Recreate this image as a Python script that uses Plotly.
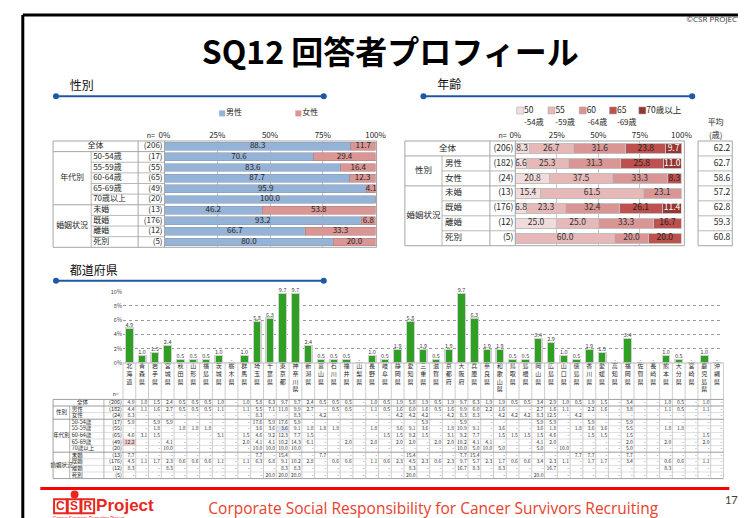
import plotly.graph_objects as go

W, H = 746, 518
JP = "Noto Sans CJK JP"
N = None

# ---------------- data ----------------
gender_labels = ["全体", "50-54歳", "55-59歳", "60-64歳", "65-69歳", "70歳以上", "未婚", "既婚", "離婚", "死別"]
gender_n = [206, 17, 55, 65, 49, 20, 13, 176, 12, 5]
male_pct = [88.3, 70.6, 83.6, 87.7, 95.9, 100.0, 46.2, 93.2, 66.7, 80.0]
female_pct = [11.7, 29.4, 16.4, 12.3, 4.1, 0.0, 53.8, 6.8, 33.3, 20.0]
gender_series = ["男性", "女性"]
gender_groups = ["年代別", "婚姻状況"]

pct_ticks = [0, 25, 50, 75, 100]
pct_ticktext = ["0%", "25%", "50%", "75%", "100%"]

age_labels = ["全体", "男性", "女性", "未婚", "既婚", "離婚", "死別"]
age_groups = ["性別", "婚姻状況"]
age_n = [206, 182, 24, 13, 176, 12, 5]
age_50_54 = [8.3, 6.6, 20.8, 15.4, 6.8, 25.0, 0]
age_55_59 = [26.7, 25.3, 37.5, 61.5, 23.3, 25.0, 60.0]
age_60_64 = [31.6, 31.3, 33.3, 23.1, 32.4, 33.3, 20.0]
age_65_69 = [23.8, 25.8, 8.3, 0, 26.1, 16.7, 20.0]
age_70_up = [9.7, 11.0, 0, 0, 11.4, 0, 0]
age_mean = [62.2, 62.7, 58.6, 57.2, 62.8, 59.3, 60.8]
age_series_top = ["50", "55", "60", "65", "70歳以上"]
age_series_bottom = ["-54歳", "-59歳", "-64歳", "-69歳", ""]

pref_names = ["北海道", "青森県", "岩手県", "宮城県", "秋田県", "山形県", "福島県", "茨城県", "栃木県", "群馬県",
              "埼玉県", "千葉県", "東京都", "神奈川県", "新潟県", "富山県", "石川県", "福井県", "山梨県", "長野県",
              "岐阜県", "静岡県", "愛知県", "三重県", "滋賀県", "京都府", "大阪府", "兵庫県", "奈良県", "和歌山県",
              "鳥取県", "島根県", "岡山県", "広島県", "山口県", "徳島県", "香川県", "愛媛県", "高知県", "福岡県",
              "佐賀県", "長崎県", "熊本県", "大分県", "宮崎県", "鹿児島県", "沖縄県"]
pref_ticks = [0, 2, 4, 6, 8, 10]
pref_ticktext = ["0%", "2%", "4%", "6%", "8%", "10%"]

tbl_labels = ["全体", "男性", "女性", "50-54歳", "55-59歳", "60-64歳", "65-69歳", "70歳以上", "未婚", "既婚", "離婚", "死別"]
tbl_groups = ["性別", "年代別", "婚姻状況"]
tbl_n = [206, 182, 24, 17, 55, 65, 49, 20, 13, 176, 12, 5]
tbl_total = [4.9, 1.0, 1.5, 2.4, 0.5, 0.5, 0.5, 1.0, N, 1.0, 5.8, 6.3, 9.7, 9.7, 2.4, 0.5, 0.5, 0.5, N, 1.0, 0.5, 1.9, 5.8, 1.9, 0.5, 1.9, 9.7, 6.3, 1.9, 1.9, 0.5, 0.5, 3.4, 2.9, 1.0, 0.5, 1.9, 1.5, N, 3.4, N, N, 1.0, 0.5, N, 1.0, N]
tbl_male = [4.4, 1.1, 1.6, 2.7, 0.5, 0.5, 0.5, 1.1, N, 1.1, 5.5, 7.1, 11.0, 9.9, 2.7, N, 0.5, 0.5, N, 1.1, 0.5, 1.6, 6.0, 1.6, 0.5, 1.6, 9.9, 6.0, 2.2, 1.6, N, N, 2.7, 1.6, 1.1, N, 2.2, 1.6, N, 3.8, N, N, 1.1, 0.5, N, 1.1, N]
tbl_female = [8.3, N, N, N, N, N, N, N, N, N, 8.3, N, N, 8.3, N, 4.2, N, N, N, N, N, 4.2, 4.2, 4.2, N, 4.2, 8.3, 8.3, N, 4.2, 4.2, 4.2, 8.3, 12.5, N, 4.2, N, N, N, N, N, N, N, N, N, N, N]
tbl_50_54 = [5.9, N, 5.9, 5.9, N, N, N, N, N, N, 17.6, 5.9, 17.6, 5.9, N, N, N, N, N, N, N, N, N, 5.9, N, N, 5.9, N, N, N, N, N, 5.9, 5.9, N, N, 5.9, N, N, 5.9, N, N, N, N, N, N, N]
tbl_55_59 = [N, N, 1.8, N, 1.8, 1.8, 1.8, N, N, N, 3.6, 3.6, 3.6, 9.1, 1.8, 1.8, 1.8, N, N, 1.8, N, 3.6, 9.1, 3.6, N, 1.8, 10.9, 9.1, N, 3.6, N, N, 3.6, 1.8, N, 1.8, 3.6, 3.6, N, 5.5, N, N, 1.8, 1.8, N, N, N]
tbl_60_64 = [4.6, 3.1, 1.5, N, N, N, N, 3.1, N, 1.5, 4.6, 9.2, 12.3, 7.7, 1.5, N, N, N, N, N, 1.5, 1.5, 9.2, 1.5, N, 3.1, 9.2, 7.7, N, 1.5, 1.5, 1.5, 1.5, 4.6, N, N, 1.5, 1.5, N, 1.5, N, N, N, N, N, 1.5, N]
tbl_65_69 = [12.2, N, N, 4.1, N, N, N, N, N, 2.0, 4.1, 4.1, 10.2, 14.3, 6.1, N, N, 2.0, N, 2.0, N, 2.0, 2.0, N, 2.0, 2.0, 10.2, 4.1, 4.1, N, N, N, 4.1, 2.0, N, N, N, N, N, 2.0, N, N, 2.0, N, N, 2.0, N]
tbl_70_up = [N, N, N, 10.0, N, N, N, N, N, N, 10.0, 10.0, 10.0, 10.0, N, N, N, N, N, N, N, N, N, N, N, N, 10.0, 5.0, 10.0, 5.0, N, N, 5.0, N, 10.0, N, N, N, N, 5.0, N, N, N, N, N, N, N]
tbl_single = [7.7, N, N, N, N, N, N, N, N, N, 7.7, N, 15.4, N, N, 7.7, N, N, N, N, N, N, 15.4, N, N, N, 7.7, 15.4, N, N, N, N, N, N, N, 7.7, 7.7, N, N, 7.7, N, N, N, N, N, N, N]
tbl_married = [4.5, 1.1, 1.7, 2.3, 0.6, 0.6, 0.6, 1.1, N, 1.1, 6.3, 6.8, 9.1, 10.2, 2.8, N, 0.6, 0.6, N, 1.1, 0.6, 2.3, 4.5, 2.3, 0.6, 2.3, 9.7, 5.7, 2.3, 1.7, 0.6, 0.6, 3.4, 2.3, 1.1, N, 1.7, 1.7, N, 3.4, N, N, 0.6, 0.6, N, 1.1, N]
tbl_divorced = [8.3, N, N, 8.3, N, N, N, N, N, N, N, N, 8.3, 8.3, N, N, N, N, N, N, N, N, 8.3, N, N, N, 16.7, 8.3, N, 8.3, N, N, N, 16.7, N, N, N, N, N, N, N, N, 8.3, N, N, N, N]
tbl_widowed = [N, N, N, N, N, N, N, N, N, N, N, 20.0, 20.0, 20.0, N, N, N, N, N, N, N, N, 20.0, N, N, N, N, N, N, N, N, N, 20.0, N, N, N, N, N, N, N, N, N, N, N, N, N, N]
tbl_rows = [tbl_total, tbl_male, tbl_female, tbl_50_54, tbl_55_59, tbl_60_64, tbl_65_69, tbl_70_up,
            tbl_single, tbl_married, tbl_divorced, tbl_widowed]
pref_total = tbl_total

# ---------------- styles ----------------
BLUE = "#95B3D7"
PINK = "#DA9694"
AGE_COLORS = ["#F2DCDB", "#E6B9B8", "#DA9694", "#C0504D", "#963634"]
AGE_TEXT = ["#333333", "#333333", "#333333", "#262626", "#FFFFFF"]
GREEN = "#2FA023"
GRID = "#A6A6A6"
NAVY = "#1F58A6"
TXT = "#262626"
RED = "#E8281E"

fig = go.Figure()
shapes = []


def py(y):
    return 1 - y / H


def hline(y, x0, x1, color=GRID, width=0.8, layer="above"):
    shapes.append(dict(type="line", xref="x", yref="y", x0=x0, x1=x1, y0=y, y1=y, layer=layer,
                       line=dict(color=color, width=width)))


def vline(x, y0, y1, color=GRID, width=0.8, layer="above"):
    shapes.append(dict(type="line", xref="x", yref="y", x0=x, x1=x, y0=y0, y1=y1, layer=layer,
                       line=dict(color=color, width=width)))


def box(x0, y0, x1, y1, fill="rgba(0,0,0,0)", color=GRID, width=0.8, layer="above"):
    shapes.append(dict(type="rect", xref="x", yref="y", x0=x0, x1=x1, y0=y0, y1=y1, layer=layer,
                       fillcolor=fill, line=dict(color=color, width=width)))


def txt(xs, ys, texts, size=8, color=TXT, pos="middle center", family=JP, xa="x", ya="y"):
    fig.add_trace(go.Scatter(x=list(xs), y=list(ys), text=list(texts), mode="text", textposition=pos,
                             textfont=dict(size=size, color=color, family=family),
                             xaxis=xa, yaxis=ya, hoverinfo="skip", showlegend=False, cliponaxis=False))


def fmt(v):
    return "-" if v is None else f"{v:.1f}"


# ---------------- page frame, title ----------------
hline(3, 9, 746, color="#000000", width=3)
vline(9, 3, 518, color="#000000", width=3)
txt([688], [8], ["©CSR PROJECT"], size=8, pos="middle right", family="Open Sans", color="#333333")
txt([385], [45], ["<b>SQ12 回答者プロフィール</b>"], size=32, color="#000000")

# section headers
for label, tx, ty, lx0, lx1, ly in [("性別", 57, 76, 43, 317, 85.5),
                                     ("年齢", 433, 75, 419, 694, 85.5),
                                     ("都道府県", 57, 264, 43, 317, 273)]:
    txt([tx], [ty], [label], size=12, pos="middle right", color="#111111")
    hline(ly, lx0, lx1, color=NAVY, width=2)
    fig.add_trace(go.Scatter(x=[lx0, lx1], y=[ly, ly], mode="markers", xaxis="x", yaxis="y",
                             marker=dict(size=6, color=NAVY), hoverinfo="skip", showlegend=False))

# ---------------- gender table ----------------
GX = [40, 79, 127, 154, 370]
GY0, GRH = 131, 10.8
G_N = len(gender_labels)
GY1 = GY0 + GRH * G_N
gc = [GY0 + GRH * (i + 0.5) for i in range(G_N)]

fig.add_trace(go.Scatter(x=[213, 291], y=[103, 103], mode="markers", xaxis="x", yaxis="y",
                         marker=dict(symbol="square", size=6, color=[BLUE, PINK]),
                         hoverinfo="skip", showlegend=False))
txt([217, 295], [103, 103], gender_series, size=8, pos="middle right")
txt([140], [126], ["n="], size=7, pos="middle center")

hline(GY0, GX[0], GX[4] + 1, width=1)
hline(GY1, GX[0], GX[4] + 1, width=1)
for x in (GX[0], GX[2], GX[3], GX[4] + 1):
    vline(x, GY0, GY1, width=1)
vline(GX[1], GY0 + GRH, GY1)
for i in range(1, G_N):
    y = GY0 + GRH * i
    if i in (1, 6):
        hline(y, GX[0], GX[3], width=1)
    else:
        hline(y, GX[1], GX[3])

txt([(GX[0] + GX[2]) / 2], [gc[0]], [gender_labels[0]], size=8)
txt([(GX[0] + GX[1]) / 2] * 2, [GY0 + GRH * 3.5, GY0 + GRH * 8], gender_groups, size=8)
txt([GX[1] + 2] * (G_N - 1), gc[1:], gender_labels[1:], size=8, pos="middle right")
txt([GX[3] - 2] * G_N, gc, [f"({n})" for n in gender_n], size=8, pos="middle left")

gidx = list(range(G_N))
fig.add_trace(go.Bar(x=male_pct, y=gidx, orientation="h", xaxis="x2", yaxis="y2", width=0.74,
                     marker=dict(color=BLUE, line=dict(color="#8C9DB5", width=0.6)),
                     hoverinfo="skip", showlegend=False))
fig.add_trace(go.Bar(x=female_pct, y=gidx, orientation="h", xaxis="x2", yaxis="y2", width=0.74,
                     marker=dict(color=PINK, line=dict(color="#B08080", width=0.6)),
                     hoverinfo="skip", showlegend=False))
txt([m / 2 for m in male_pct], gidx, [f"{m:.1f}" for m in male_pct], size=8, xa="x2", ya="y2")
fx = [m + f / 2 for m, f in zip(male_pct, female_pct) if f > 0]
fy = [i for i, f in zip(gidx, female_pct) if f > 0]
ft = [f"{f:.1f}" for f in female_pct if f > 0]
txt(fx, fy, ft, size=8, xa="x2", ya="y2")

# ---------------- age table ----------------
AX = [400, 438, 487, 513, 683]
AFR = 686
AY0, ARH = 131, 15.2
A_N = len(age_labels)
AY1 = AY0 + ARH * A_N
ac = [AY0 + ARH * (i + 0.5) for i in range(A_N)]

leg_x = [518, 550, 582, 613, 643]
fig.add_trace(go.Scatter(x=leg_x, y=[100] * 5, mode="markers", xaxis="x", yaxis="y",
                         marker=dict(symbol="square", size=7, color=AGE_COLORS, line=dict(color="#A0A0A0", width=0.5)),
                         hoverinfo="skip", showlegend=False))
txt([x + 4 for x in leg_x], [100] * 5, age_series_top, size=8.5, pos="middle right")
txt([532, 564, 597, 627], [113] * 4, age_series_bottom[:4], size=8)
txt([500], [126], ["n="], size=7)
txt([718, 718], [113, 126], ["平均", "(歳)"], size=8)

hline(AY0, AX[0], AFR, width=1)
hline(AY1, AX[0], AFR, width=1)
for x in (AX[0], AX[2], AX[3], AFR):
    vline(x, AY0, AY1, width=1)
vline(AX[1], AY0 + ARH, AY1)
for i in range(1, A_N):
    y = AY0 + ARH * i
    if i in (1, 3):
        hline(y, AX[0], AX[3], width=1)
    else:
        hline(y, AX[1], AX[3])
box(700, AY0, 735, AY1, width=1)
for i in range(1, A_N):
    hline(AY0 + ARH * i, 700, 735)

txt([(AX[0] + AX[2]) / 2], [ac[0]], [age_labels[0]], size=8.5)
txt([(AX[0] + AX[1]) / 2] * 2, [AY0 + ARH * 2, AY0 + ARH * 5], age_groups, size=8.5)
txt([AX[1] + 3] * (A_N - 1), ac[1:], age_labels[1:], size=8.5, pos="middle right")
txt([AX[3] - 2] * A_N, ac, [f"({n})" for n in age_n], size=8.5, pos="middle left")
txt([733] * A_N, ac, [f"{m:.1f}" for m in age_mean], size=8.5, pos="middle left")

aidx = list(range(A_N))
age_series = [age_50_54, age_55_59, age_60_64, age_65_69, age_70_up]
cum = [0.0] * A_N
for s, col, tcol in zip(age_series, AGE_COLORS, AGE_TEXT):
    fig.add_trace(go.Bar(x=s, y=aidx, orientation="h", xaxis="x3", yaxis="y3", width=0.7,
                         marker=dict(color=col, line=dict(color="#BFBFBF", width=1)),
                         hoverinfo="skip", showlegend=False))
    xs, ys, ts = [], [], []
    for i, v in enumerate(s):
        if v > 0:
            xs.append(cum[i] + v / 2)
            ys.append(i)
            ts.append(f"{v:.1f}")
        cum[i] += v
    txt(xs, ys, ts, size=8.5, color=tcol, xa="x3", ya="y3")

# ---------------- prefecture chart ----------------
PX0, PX1 = 111.5, 726
PY0, PY1 = 284, 356.5
P_N = len(pref_names)
CW = (PX1 - PX0) / P_N
pidx = list(range(P_N))
fig.add_trace(go.Bar(x=pidx, y=[v if v else 0 for v in pref_total], xaxis="x4", yaxis="y4", width=0.6,
                     marker=dict(color=GREEN, line=dict(color="#D0D0D0", width=1.2)),
                     hoverinfo="skip", showlegend=False))
txt(pidx, [v if v else 0 for v in pref_total], [fmt(v) for v in pref_total], size=5.5,
    color="#404040", pos="top center", xa="x4", ya="y4")

TY0, TRH = 393.5, 6.7
T_N = len(tbl_labels)
TY1 = TY0 + TRH * T_N
tc = [TY0 + TRH * (i + 0.5) for i in range(T_N)]
TX = [40, 57, 92, PX0]

box(PX0 + CW * 0, TY0 + TRH * 6, PX0 + CW * 1, TY0 + TRH * 7, fill="#F2C9C8", width=0, layer="below")
box(PX0 + CW * 12, TY0 + TRH * 4, PX0 + CW * 13, TY0 + TRH * 5, fill="#DCE6F2", width=0, layer="below")

for k in range(P_N + 1):
    vline(PX0 + CW * k, PY1, TY1, color="#B8B8B8", width=0.7)
hline(PY1, PX0, PX1, color="#B8B8B8", width=1)
hline(TY0, TX[0], PX1, color="#A0A0A0", width=1)
hline(TY1, TX[0], PX1, color="#A0A0A0", width=1)
vline(TX[0], TY0, TY1, color="#A0A0A0", width=1)
vline(TX[2], TY0, TY1, color="#A0A0A0", width=0.8)
vline(TX[1], TY0 + TRH, TY1, color="#A0A0A0", width=0.8)
for i in range(1, T_N):
    y = TY0 + TRH * i
    if i in (1, 3, 8):
        hline(y, TX[0], PX1, color="#909090", width=0.9)
    else:
        hline(y, TX[1], PX1, color="#C8C8C8", width=0.6)

txt([104], [389], ["n="], size=5)
txt([70], [tc[0]], [tbl_labels[0]], size=5.5)
txt([(TX[0] + TX[1]) / 2] * 3, [TY0 + TRH * 2, TY0 + TRH * 5.5, TY0 + TRH * 10], tbl_groups, size=5.5)
txt([TX[1] + 2] * (T_N - 1), tc[1:], tbl_labels[1:], size=5.5, pos="middle right")
txt([TX[3] - 1] * T_N, tc, [f"({n})" for n in tbl_n], size=5.5, pos="middle left")
vx, vy, vt = [], [], []
for i, row in enumerate(tbl_rows):
    for k, v in enumerate(row):
        vx.append(PX0 + CW * (k + 1) - 1.2)
        vy.append(tc[i])
        vt.append(fmt(v))
txt(vx, vy, vt, size=5, color="#333333", pos="middle left")

# ---------------- footer ----------------
hline(484, 27, 732, color="#FF0000", width=3)
for i, ch in enumerate("CSR"):
    x0 = 41 + i * 14
    box(x0, 495, x0 + 13, 509, fill="#FFFFFF", color=RED, width=2, layer="below")
    txt([x0 + 6.5], [502.5], [f"<b>{ch}</b>"], size=12, color=RED, family="Liberation Sans")
fig.add_trace(go.Scatter(x=[62], y=[490], mode="markers", xaxis="x", yaxis="y",
                         marker=dict(size=8, color=RED), hoverinfo="skip", showlegend=False))
txt([84], [502], ["<b>Project</b>"], size=17, color=RED, pos="middle right", family="Liberation Sans")
txt([40], [515], ["Cancer Survivors Recruiting Project"], size=4.5, color=RED, pos="middle right",
    family="Liberation Sans")
txt([429], [506], ["Corporate Social Responsibility for Cancer Survivors Recruiting"], size=15.5,
    color="#E8412C", family="Open Sans")
txt([734], [497], ["17"], size=11, color="#404040", family="Lato")

# ---------------- layout ----------------
pct_axis = dict(range=[0, 100], side="top", tickvals=pct_ticks, ticktext=pct_ticktext, showgrid=True,
                gridcolor="#C8C8C8", gridwidth=1, zeroline=False, showline=False, ticks="",
                tickfont=dict(size=8, color=TXT, family=JP), fixedrange=True)

fig.update_layout(
    width=W, height=H, margin=dict(l=0, r=0, t=0, b=0), autosize=False,
    paper_bgcolor="#FFFFFF", plot_bgcolor="rgba(0,0,0,0)", barmode="stack", showlegend=False,
    shapes=shapes,
    xaxis=dict(domain=[0, 1], range=[0, W], visible=False, fixedrange=True),
    yaxis=dict(domain=[0, 1], range=[H, 0], visible=False, fixedrange=True),
    xaxis2=dict(domain=[GX[3] / W, GX[4] / W], anchor="y2", **pct_axis),
    yaxis2=dict(domain=[py(GY1), py(GY0)], range=[G_N - 0.5, -0.5], visible=False, anchor="x2"),
    xaxis3=dict(domain=[AX[3] / W, AX[4] / W], anchor="y3", **pct_axis),
    yaxis3=dict(domain=[py(AY1), py(AY0)], range=[A_N - 0.5, -0.5], visible=False, anchor="x3"),
    xaxis4=dict(domain=[PX0 / W, PX1 / W], anchor="y4", range=[-0.5, P_N - 0.5], tickvals=pidx,
                ticktext=["<br>".join(n) for n in pref_names], ticks="", showgrid=False, zeroline=False,
                showline=False, tickfont=dict(size=6, color=TXT, family=JP), fixedrange=True,
                ticklabelstandoff=-2),
    yaxis4=dict(domain=[py(PY1), py(PY0)], anchor="x4", range=[0, 10], tickvals=pref_ticks,
                ticktext=pref_ticktext, showgrid=True, gridcolor="#9A9A9A", griddash="dot", gridwidth=0.8,
                zeroline=False, showline=False, ticks="", tickfont=dict(size=5.5, color="#404040", family=JP),
                fixedrange=True),
)

fig.write_html("out.html")
